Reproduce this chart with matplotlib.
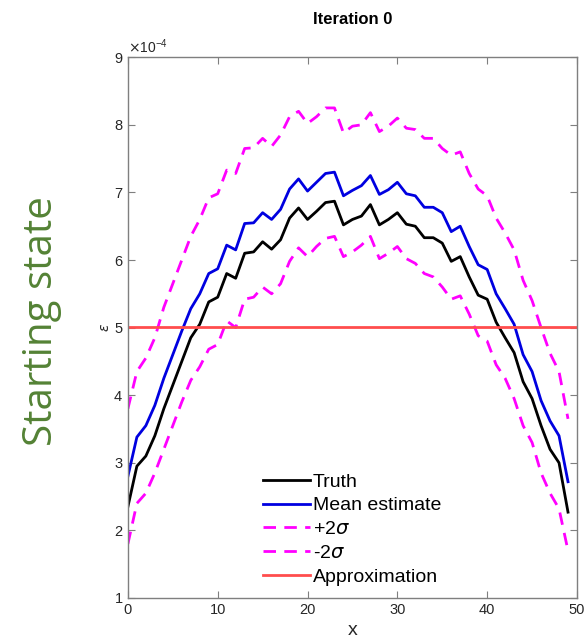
import numpy as np
import matplotlib
matplotlib.use("Agg")
import matplotlib.pyplot as plt
from matplotlib.ticker import ScalarFormatter

plt.rcParams["font.family"] = ["Liberation Sans", "DejaVu Sans"]

# Values (units of 1e-4)
x = np.arange(50)
truth = [2.35, 2.95, 3.10, 3.40, 3.80, 4.15, 4.50, 4.85, 5.05, 5.38,
         5.45, 5.80, 5.73, 6.10, 6.12, 6.27, 6.16, 6.30, 6.62, 6.77,
         6.60, 6.72, 6.85, 6.87, 6.52, 6.60, 6.65, 6.82, 6.52, 6.60,
         6.70, 6.53, 6.50, 6.33, 6.33, 6.25, 5.98, 6.05, 5.75, 5.48,
         5.42, 5.08, 4.85, 4.63, 4.20, 3.95, 3.55, 3.20, 3.00, 2.27]
mean_est = [2.80, 3.38, 3.55, 3.85, 4.25, 4.60, 4.95, 5.28, 5.50, 5.80,
            5.87, 6.22, 6.15, 6.54, 6.55, 6.70, 6.60, 6.75, 7.05, 7.20,
            7.02, 7.15, 7.28, 7.30, 6.95, 7.03, 7.10, 7.25, 6.97, 7.04,
            7.15, 6.98, 6.95, 6.78, 6.78, 6.70, 6.42, 6.50, 6.20, 5.93,
            5.86, 5.50, 5.28, 5.05, 4.60, 4.35, 3.92, 3.62, 3.40, 2.72]
upper = [3.80, 4.35, 4.55, 4.85, 5.30, 5.65, 6.00, 6.35, 6.60, 6.92,
         6.98, 7.33, 7.28, 7.65, 7.66, 7.80, 7.68, 7.85, 8.12, 8.20,
         8.02, 8.12, 8.25, 8.25, 7.88, 7.98, 8.00, 8.18, 7.90, 7.98,
         8.10, 7.95, 7.93, 7.80, 7.80, 7.65, 7.55, 7.60, 7.28, 7.05,
         6.95, 6.62, 6.40, 6.15, 5.70, 5.40, 5.00, 4.62, 4.35, 3.65]
lower = [1.80, 2.40, 2.55, 2.85, 3.20, 3.55, 3.90, 4.22, 4.42, 4.68,
         4.75, 5.10, 5.00, 5.42, 5.45, 5.60, 5.50, 5.65, 5.98, 6.18,
         6.05, 6.20, 6.32, 6.35, 6.05, 6.12, 6.22, 6.35, 6.02, 6.10,
         6.20, 6.02, 5.95, 5.80, 5.75, 5.60, 5.42, 5.47, 5.20, 4.88,
         4.80, 4.45, 4.25, 3.95, 3.55, 3.30, 2.85, 2.55, 2.32, 1.70]
approx = 5.01
scale = 1e-4

fig = plt.figure(figsize=(5.84, 6.43), dpi=100)
ax = fig.add_axes([0.219, 0.070, 0.769, 0.841])

ax.plot(x, np.array(truth) * scale, color="black", lw=2, label="Truth")
ax.plot(x, np.array(mean_est) * scale, color="#0000e0", lw=2, label="Mean estimate")
ax.plot(x, np.array(upper) * scale, color="#ff00ff", lw=2, ls=(0, (4.5, 3)), label="+2$\\sigma$")
ax.plot(x, np.array(lower) * scale, color="#ff00ff", lw=2, ls=(0, (4.5, 3)), label="-2$\\sigma$")
ax.axhline(approx * scale, color="#ff4d4d", lw=2, label="Approximation")

ax.set_xlim(0, 50)
ax.set_ylim(1e-4, 9e-4)
ax.set_xticks(range(0, 51, 10))
ax.set_yticks(np.arange(1, 10) * scale)

fmt = ScalarFormatter(useMathText=True)
fmt.set_powerlimits((-3, 3))
ax.yaxis.set_major_formatter(fmt)
ax.yaxis.get_offset_text().set_fontsize(10)
ax.yaxis.get_offset_text().set_color("#262626")

for s in ax.spines.values():
    s.set_color("#7f7f7f")
    s.set_linewidth(1)
ax.tick_params(direction="in", top=True, right=True, length=5,
               color="#7f7f7f", labelsize=10.5, labelcolor="#262626")

ax.set_xlabel("x", fontsize=14, color="#262626", labelpad=4)
ax.set_ylabel("$\\epsilon$", fontsize=10, color="#262626", labelpad=1)
ax.set_title("Iteration 0", fontsize=12, fontweight="bold", pad=24)

ax.legend(loc="lower left", bbox_to_anchor=(0.262, -0.01), frameon=False,
          fontsize=14, handlelength=2.4, handletextpad=0.15, labelspacing=0.32)

fig.text(0.072, 0.50, "Starting state", rotation=90, color="#548235",
         fontsize=29, family="Open Sans", ha="center", va="center")

fig.savefig("out.png", dpi=100)
